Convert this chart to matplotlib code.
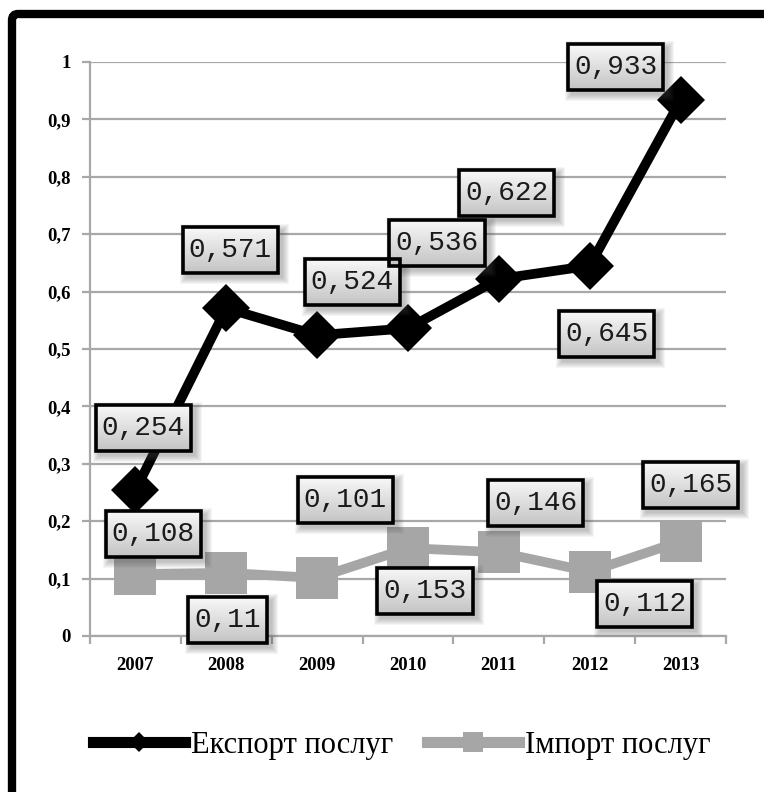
import matplotlib
matplotlib.use("Agg")
import numpy as np
import matplotlib.pyplot as plt
from matplotlib.lines import Line2D
from matplotlib.patches import FancyBboxPatch, Rectangle
from matplotlib.colors import LinearSegmentedColormap
from matplotlib.transforms import IdentityTransform

years = ["2007", "2008", "2009", "2010", "2011", "2012", "2013"]
export_vals = [0.254, 0.571, 0.524, 0.536, 0.622, 0.645, 0.933]
import_vals = [0.108, 0.11, 0.101, 0.153, 0.146, 0.112, 0.165]
export_name = "Експорт послуг"
import_name = "Імпорт послуг"
yticks = [0, 0.1, 0.2, 0.3, 0.4, 0.5, 0.6, 0.7, 0.8, 0.9, 1.0]

# label offsets in pixels (styling only)
export_off = [(8, 62), (4, 58), (35, 53), (29, 85), (8, 86), (17, -68), (-65, 33)]
import_off = [(18, 40), (1, -47), (28, 78), (17, -43), (37, 49), (55, -32), (10, 56)]

W, H = 764, 792
fig = plt.figure(figsize=(W / 100, H / 100), dpi=100)
ax = fig.add_axes([90 / W, 1 - 636 / H, (726 - 90) / W, (636 - 62) / H])

x = list(range(len(years)))
grey = "#a6a6a6"
gridc = "#a8a8a8"
tickfont = dict(family="Liberation Serif", fontweight="bold", fontsize=13.5)

ax.set_xlim(-0.5, len(years) - 0.5)
ax.set_ylim(0, 1)
ax.set_yticks(yticks)
ax.set_yticklabels([("%g" % v).replace(".", ",") for v in yticks], **tickfont)
ax.yaxis.grid(True, color=gridc, lw=1.6)
ax.set_axisbelow(True)
ax.set_xticks([i - 0.5 for i in range(len(years) + 1)])
ax.set_xticklabels([])
ax.set_xticks(x, minor=True)
ax.set_xticklabels(years, minor=True, **tickfont)
ax.tick_params(axis="x", which="major", direction="out", length=6,
               color=gridc, width=1.6)
ax.tick_params(axis="x", which="minor", length=0, pad=15)
ax.tick_params(axis="y", direction="out", length=6, color=gridc,
               width=1.6, pad=8)
for s in ["top", "right"]:
    ax.spines[s].set_visible(False)
for s in ["left", "bottom"]:
    ax.spines[s].set_color(gridc)
    ax.spines[s].set_linewidth(1.6)

ax.plot(x, import_vals, color=grey, lw=7, marker="s", ms=30,
        markeredgewidth=0, zorder=3, clip_on=False)
ax.plot(x, export_vals, color="black", lw=7, marker="D", ms=24,
        markeredgewidth=0, zorder=4, clip_on=False)

anns = []

def label(xi, yi, val, off):
    a = ax.annotate(("%g" % val).replace(".", ","), (xi, yi),
                    xytext=off, textcoords="offset pixels",
                    ha="center", va="center", family="Liberation Mono",
                    fontsize=20, color="#1a1a1a", zorder=6,
                    annotation_clip=False)
    anns.append(a)

for xi, v, o in zip(x, import_vals, import_off):
    label(xi, v, v, o)
for xi, v, o in zip(x, export_vals, export_off):
    label(xi, v, v, o)

handles = [
    Line2D([], [], color="black", lw=8, marker="D", ms=10, markeredgewidth=0),
    Line2D([], [], color=grey, lw=8, marker="s", ms=14, markeredgewidth=0),
]
fig.legend(handles, [export_name, import_name], loc="center",
           bbox_to_anchor=(402 / W, 1 - 745 / H), ncol=2, frameon=False,
           prop={"family": "Liberation Serif", "size": 22},
           handlelength=3.0, handletextpad=0.2, columnspacing=1.1)

# outer frame (clipped at right and bottom)
frame = FancyBboxPatch((12 / W, -0.2), 1.3, 1 - 14 / H + 0.2,
                       boxstyle="round,pad=0,rounding_size=0.008",
                       transform=fig.transFigure, fc="none", ec="black",
                       lw=6, clip_on=False)
fig.patches.append(frame)

# label boxes: soft shadow, gradient fill, black border
fig.canvas.draw()
rend = fig.canvas.get_renderer()
inv = ax.transData.inverted()
cmap = LinearSegmentedColormap.from_list("g", ["#f8f8f8", "#c4c4c4"])
grad = np.linspace(0, 1, 64).reshape(-1, 1)
padx, pady = 6, 10
for a in anns:
    tb = a.get_window_extent(rend)
    bx0, by0 = tb.x0 - padx, tb.y0 - pady
    bw, bh = tb.width + 2 * padx, tb.height + 2 * pady
    for k in range(1, 8):
        ax.add_patch(Rectangle((bx0 + 4 - k, by0 - 4 - k),
                               bw + 2 * k, bh + 2 * k,
                               transform=IdentityTransform(), fc="#555555",
                               ec="none", alpha=0.06, zorder=5,
                               clip_on=False))
    (x0, y0) = inv.transform((bx0, by0))
    (x1, y1) = inv.transform((bx0 + bw, by0 + bh))
    im = ax.imshow(grad, cmap=cmap, extent=(x0, x1, y0, y1), origin="upper",
                   aspect="auto", zorder=5.5, interpolation="bilinear")
    im.set_clip_on(False)
    ax.add_patch(Rectangle((bx0, by0), bw, bh, transform=IdentityTransform(),
                           fc="none", ec="black", lw=2.6, zorder=5.8,
                           clip_on=False))

ax.set_xlim(-0.5, len(years) - 0.5)
ax.set_ylim(0, 1)

fig.savefig("out.png", dpi=100)
